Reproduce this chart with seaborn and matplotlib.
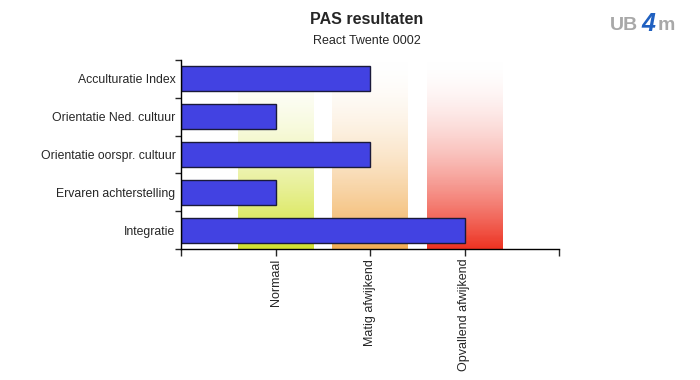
#!/usr/bin/env python3
## PAS resultaten - horizontal bars over coloured score bands

import numpy as np
import matplotlib
matplotlib.use("Agg")
import matplotlib.pyplot as plt
from matplotlib.colors import LinearSegmentedColormap
import seaborn as sb

categories = ["Acculturatie Index", "Orientatie Ned. cultuur", "Orientatie oorspr. cultuur",
              "Ervaren achterstelling", "Integratie"]
scores = [2, 1, 2, 1, 3]
x_ticks = [0, 1, 2, 3, 4]
x_labels = ["", "Normaal", "Matig afwijkend", "Opvallend afwijkend", ""]
band_centers = [1, 2, 3]
band_colors = ["#d2e232", "#f2ae55", "#ee3322"]

sb.set_style("white")
plt.rcParams["font.family"] = ["Liberation Sans", "DejaVu Sans"]

fig = plt.figure(figsize=(7, 3.8), dpi=100)
ax = fig.add_axes([181 / 700, 1 - 249 / 380, 378 / 700, 189 / 380])

# gradient bands (nearly white at top, full colour at bottom)
grad = np.linspace(0, 1, 256).reshape(-1, 1) ** 0.85
for c, col in zip(band_centers, band_colors):
    cmap = LinearSegmentedColormap.from_list("b", [(1, 1, 1, 0), col])
    ax.imshow(grad, cmap=cmap, aspect="auto", origin="upper",
              extent=(c - 0.4, c + 0.4, 4.5, -0.45), zorder=0)

sb.barplot(x=scores, y=categories, orient="h", color="#4242e2", saturation=1,
           edgecolor="#1a1a3a", linewidth=1, width=0.66, ax=ax, zorder=2)

ax.set_xlim(0, 4)
ax.set_ylim(4.5, -0.5)
ax.set_xticks(x_ticks)
ax.set_xticklabels(x_labels, rotation=90, va="top", ha="center")
ax.set_yticks(np.arange(-0.5, 5, 1), minor=False)
ax.set_yticklabels([])
ax.set_yticks(range(len(categories)), minor=True)
ax.set_yticklabels(categories, minor=True)
ax.tick_params(axis="y", which="minor", length=0, labelsize=8.8, pad=4)
ax.tick_params(axis="y", which="major", length=4, width=1, direction="out", left=True)
ax.tick_params(axis="x", length=5, width=1, direction="out", bottom=True, labelsize=9, pad=2)
ax.set_xlabel("")
ax.set_ylabel("")
for s in ["top", "right"]:
    ax.spines[s].set_visible(False)
for s in ["left", "bottom"]:
    ax.spines[s].set_color("black")
    ax.spines[s].set_linewidth(1)

fig.text(367 / 700, 1 - 20 / 380, "PAS resultaten", ha="center", va="center",
         fontsize=11.5, fontweight="bold")
fig.text(367 / 700, 1 - 41 / 380, "React Twente 0002", ha="center", va="center", fontsize=9)

# logo
fig.text(610 / 700, 1 - 25 / 380, "UB", ha="left", va="center", fontsize=14,
         fontweight="bold", color="#a8a8a8")
fig.text(641 / 700, 1 - 24 / 380, "4", ha="left", va="center", fontsize=18,
         fontweight="bold", style="italic", color="#2060c0")
fig.text(658 / 700, 1 - 25 / 380, "m", ha="left", va="center", fontsize=14,
         fontweight="bold", color="#a8a8a8")

fig.savefig("out.png", dpi=100)
plt.close(fig)
